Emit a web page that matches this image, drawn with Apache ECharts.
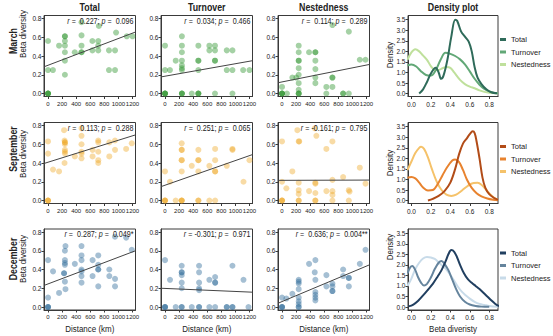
<!DOCTYPE html>
<html>
<head>
<meta charset="utf-8">
<script src="https://cdn.jsdelivr.net/npm/echarts@6/dist/echarts.min.js"></script>
<style>
  html, body { margin: 0; padding: 0; background: #fff; }
  #chart { width: 553px; height: 336px; }
</style>
</head>
<body>
<div id="chart"></div>
<script>
// ---------- labels and ticks ----------
const months = ['March', 'September', 'December'];
const columnTitles = ['Total', 'Turnover', 'Nestedness', 'Density plot'];
const componentNames = ['Total', 'Turnover', 'Nestedness'];
const distanceTicks = [0, 200, 400, 600, 800, 1000, 1200];
const betaTicks = [0, 0.2, 0.4, 0.6, 0.8];
const densityXTicks = [0, 0.2, 0.4, 0.6, 0.8];
const densityYTicks = [0, 0.5, 1, 1.5, 2, 2.5, 3, 3.5];

// ---------- pairwise beta diversity vs distance (km) ----------
const marchTotal = [[0,0],[0,0],[0,0],[0,0],[0,0.56],[0,0.25],[70,0.25],[157,0.51],[240,0.61],[240,0.61],[240,0.56],[240,0.51],[240,0.44],[240,0.35],[240,0.2],[380,0.44],[476,0.76],[476,0.62],[476,0.51],[476,0.44],[476,0.44],[630,0.56],[630,0.46],[714,0.56],[714,0.51],[714,0.46],[723,0.72],[866,0.46],[866,0.25],[952,0.46],[952,0.25],[967,0.65],[1119,0.61],[1200,0.61]];
const marchTurnover = [[0,0],[0,0],[0,0],[0,0],[0,0.51],[0,0.25],[70,0.25],[152,0.35],[240,0.61],[240,0.51],[240,0.44],[240,0.35],[240,0.3],[240,0.27],[240,0.25],[240,0],[240,0],[240,0],[380,0],[474,0.51],[474,0.35],[474,0.35],[474,0.25],[474,0],[474,0],[474,0],[630,0.51],[630,0.46],[710,0.51],[710,0.46],[710,0.35],[710,0.35],[710,0],[877,0.46],[877,0.25],[958,0.46],[958,0.25],[958,0],[1110,0.25],[1200,0.25]];
const marchNestedness = [[0,0],[0,0],[0,0],[0,0],[0,0.07],[70,0],[147,0.17],[204,0.17],[237,0.51],[237,0.44],[237,0.35],[237,0.35],[237,0.27],[237,0.2],[237,0.11],[237,0.04],[237,0],[237,0],[237,0],[384,0.44],[474,0.44],[474,0.44],[474,0.35],[474,0.26],[474,0.17],[474,0.11],[630,0.07],[630,0],[716,0.73],[716,0.17],[716,0.17],[716,0.07],[868,0],[868,0],[949,0],[949,0.66],[1105,0.36],[1186,0.36]];

const septemberTotal = [[0,0],[0,0],[0,0],[0,0.63],[0,0.5],[71,0.33],[157,0.31],[228,0.75],[235,0.64],[240,0.62],[240,0.62],[240,0.6],[240,0.54],[240,0.52],[240,0.5],[235,0.4],[381,0.47],[476,0.77],[476,0.69],[476,0.6],[476,0.52],[476,0.5],[476,0.45],[633,0.54],[633,0.47],[714,0.64],[714,0.62],[714,0.52],[714,0.43],[714,0.4],[871,0.62],[871,0.47],[952,0.64],[952,0.54],[1110,0.55],[1190,0.61]];
const septemberTurnover = [[0,0],[0,0],[0,0],[0,0.31],[70,0.2],[152,0],[237,0.61],[237,0.54],[237,0.54],[237,0.43],[237,0.43],[237,0.31],[237,0],[237,0],[237,0],[380,0.37],[474,0.54],[474,0.43],[474,0.43],[474,0.31],[474,0],[474,0],[630,0.37],[630,0],[712,0],[712,0.55],[712,0.43],[712,0.31],[712,0.31],[877,0.37],[958,0.55],[958,0.54],[1115,0.2],[1200,0.43]];
const septemberNestedness = [[0,0],[0,0],[0,0],[0,0.63],[0,0.2],[62,0.13],[147,0.31],[218,0.75],[237,0.63],[245,0.63],[237,0.19],[237,0.11],[237,0.07],[237,0],[237,0],[384,0.1],[465,0.77],[488,0.69],[474,0.19],[474,0.18],[474,0.08],[474,0],[474,0],[630,0.55],[630,0.1],[716,0.63],[716,0.22],[716,0.1],[716,0.06],[716,0],[868,0.25],[949,0.11],[960,0.095],[949,0],[1105,0.35],[1186,0.18]];

const decemberTotal = [[0,0],[0,0],[0,0],[0,0.1],[0,0.5],[71,0.38],[157,0.15],[228,0.36],[228,0.36],[240,0.45],[240,0.47],[240,0.5],[240,0.6],[248,0.65],[240,0.27],[248,0.19],[381,0.46],[476,0.65],[476,0.55],[476,0.5],[476,0.4],[476,0.38],[476,0.33],[476,0.26],[633,0.5],[633,0.33],[714,0.55],[714,0.45],[714,0.4],[714,0.4],[714,0.22],[871,0.4],[871,0.33],[952,0.75],[952,0.3],[952,0.22],[1110,0.74],[1190,0.61]];
const decemberTurnover = [[0,0],[0,0],[0,0],[0,0.5],[71,0.29],[152,0],[237,0.44],[237,0.37],[237,0.37],[237,0.34],[237,0.26],[237,0.2],[237,0],[237,0],[380,0],[484,0.44],[484,0.37],[484,0.26],[484,0.2],[484,0.18],[484,0],[484,0],[630,0.29],[630,0],[712,0.32],[712,0.26],[712,0.26],[712,0],[877,0],[877,0],[958,0],[958,0],[958,0.44],[1115,0.29],[1186,0]];
const decemberNestedness = [[0,0],[0,0],[0,0],[0,0.1],[62,0.09],[147,0.14],[237,0.29],[237,0.27],[237,0.25],[237,0.19],[237,0.1],[237,0.06],[237,0.03],[237,0],[237,0],[384,0.46],[465,0.37],[474,0.5],[474,0.29],[474,0.16],[474,0.13],[474,0.1],[474,0.07],[630,0.34],[630,0.22],[716,0.25],[716,0.22],[716,0.17],[716,0.17],[868,0.4],[868,0.33],[949,0.31],[949,0.31],[949,0.22],[1105,0.46],[1186,0.61]];

// fitted regression line: y at the left and right ends of the distance axis
const marchFits = [[0.285, 0.656], [0.177, 0.35], [0.115, 0.31]];
const septemberFits = [[0.395, 0.70], [0.148, 0.49], [0.215, 0.218]];
const decemberFits = [[0.23, 0.60], [0.2, 0.158], [0.04, 0.45]];

// correlation statistics per panel
const marchR = [0.227, 0.034, 0.114];
const marchP = [0.096, 0.466, 0.289];
const septemberR = [0.113, 0.251, -0.161];
const septemberP = [0.288, 0.065, 0.795];
const decemberR = [0.287, -0.301, 0.636];
const decemberP = [0.049, 0.971, 0.004];
const decemberStars = ['*', '', '**'];

// ---------- kernel density curves of beta diversity ----------
const marchTotalDensity = [[0.08,0],[0.12,0.2],[0.16,0.55],[0.2,0.95],[0.25,1.22],[0.28,1.0],[0.305,0.7],[0.33,0.85],[0.37,1.6],[0.41,2.7],[0.45,3.5],[0.47,3.45],[0.51,2.95],[0.55,2.7],[0.59,2.45],[0.62,2.0],[0.65,1.25],[0.68,0.75],[0.72,0.45],[0.77,0.2],[0.82,0.06],[0.88,0.01]];
const marchTurnoverDensity = [[-0.04,1.33],[0,1.38],[0.05,1.28],[0.1,1.05],[0.15,0.88],[0.2,0.85],[0.25,1.1],[0.3,1.6],[0.35,1.93],[0.4,1.88],[0.45,1.78],[0.5,1.62],[0.55,1.38],[0.6,1.05],[0.65,0.7],[0.7,0.42],[0.75,0.22],[0.8,0.1],[0.85,0.03],[0.89,0.01]];
const marchNestednessDensity = [[-0.04,1.6],[0,1.95],[0.04,2.1],[0.08,2.0],[0.12,1.8],[0.16,1.6],[0.2,1.3],[0.24,1.12],[0.28,1.12],[0.32,1.2],[0.36,1.26],[0.4,1.22],[0.44,1.0],[0.5,0.65],[0.55,0.45],[0.6,0.33],[0.65,0.25],[0.7,0.15],[0.75,0.08],[0.8,0.04],[0.89,0.01]];

const septemberTotalDensity = [[0.17,0],[0.22,0.08],[0.28,0.22],[0.34,0.45],[0.4,0.85],[0.45,1.5],[0.49,2.2],[0.53,2.7],[0.57,2.95],[0.6,3.15],[0.63,3.28],[0.65,3.2],[0.67,2.8],[0.7,2.0],[0.73,1.1],[0.76,0.6],[0.8,0.3],[0.85,0.12],[0.89,0.04]];
const septemberTurnoverDensity = [[-0.04,1.08],[0,1.12],[0.04,1.05],[0.08,0.85],[0.12,0.62],[0.17,0.48],[0.22,0.5],[0.27,0.78],[0.32,1.2],[0.37,1.6],[0.42,1.9],[0.45,1.95],[0.49,1.82],[0.53,1.45],[0.57,1.0],[0.62,0.6],[0.67,0.35],[0.72,0.2],[0.78,0.1],[0.84,0.04],[0.89,0.01]];
const septemberNestednessDensity = [[-0.04,1.45],[0,1.85],[0.04,2.25],[0.08,2.5],[0.1,2.55],[0.13,2.45],[0.17,2.05],[0.21,1.5],[0.26,0.9],[0.31,0.5],[0.36,0.28],[0.41,0.22],[0.46,0.28],[0.52,0.48],[0.58,0.7],[0.64,0.83],[0.68,0.84],[0.72,0.75],[0.77,0.5],[0.82,0.25],[0.86,0.1],[0.89,0.04]];

const decemberTotalDensity = [[-0.03,0.03],[0.02,0.12],[0.07,0.3],[0.12,0.55],[0.17,0.82],[0.22,1.1],[0.27,1.45],[0.31,1.75],[0.35,2.15],[0.38,2.5],[0.41,2.7],[0.44,2.62],[0.47,2.35],[0.5,2.0],[0.54,1.6],[0.58,1.32],[0.62,1.15],[0.66,1.0],[0.7,0.85],[0.74,0.68],[0.78,0.5],[0.82,0.32],[0.86,0.16],[0.9,0.04]];
const decemberTurnoverDensity = [[-0.04,1.6],[-0.01,1.9],[0.01,1.95],[0.04,1.75],[0.07,1.4],[0.1,1.15],[0.13,1.02],[0.16,1.1],[0.2,1.4],[0.24,1.8],[0.28,2.1],[0.31,2.18],[0.34,2.05],[0.38,1.75],[0.42,1.3],[0.46,0.85],[0.5,0.5],[0.55,0.25],[0.6,0.12],[0.66,0.05],[0.72,0.02],[0.8,0.01]];
const decemberNestednessDensity = [[-0.04,1.0],[0,1.35],[0.04,1.8],[0.08,2.1],[0.12,2.3],[0.16,2.37],[0.2,2.35],[0.24,2.28],[0.28,2.12],[0.32,1.95],[0.36,1.78],[0.4,1.52],[0.44,1.25],[0.48,0.95],[0.52,0.72],[0.56,0.55],[0.6,0.4],[0.65,0.25],[0.7,0.15],[0.75,0.1],[0.8,0.05],[0.89,0.01]];

// ---------- styling ----------
const FONT = '"Liberation Sans", Arial, sans-serif';
const NARROW = 0.84;           // horizontal squeeze for the compact lettering
const INK = '#222';
const FRAME = '#3a3a3a';
const pointColors = ['rgba(50,150,50,0.55)', 'rgba(238,165,30,0.5)', 'rgba(50,110,155,0.55)'];
const densityColors = [
  ['#2f6b5a', '#62a877', '#bfe09c'],
  ['#b24c18', '#e8832f', '#f5c26a'],
  ['#213f60', '#65849d', '#c8dbe9']
];

// panel geometry (pixels)
const ROW_TOP = [15.5, 122.5, 229];
const PANEL_H = 81;
const COL_LEFT = [44, 161, 278, 408];
const COL_W = [91.5, 91.5, 91.5, 90];
const DIST_RANGE = [-57, 1243];
const BETA_RANGE = [-0.032, 0.832];
const DENS_X_RANGE = [-0.035, 0.89];
const DENS_Y_RANGE = [-0.14, 3.7];

const scatterSets = [
  [marchTotal, marchTurnover, marchNestedness],
  [septemberTotal, septemberTurnover, septemberNestedness],
  [decemberTotal, decemberTurnover, decemberNestedness]
];
const fitSets = [marchFits, septemberFits, decemberFits];
const rSets = [marchR, septemberR, decemberR];
const pSets = [marchP, septemberP, decemberP];
const starSets = [['', '', ''], ['', '', ''], decemberStars];
const densitySets = [
  [marchTotalDensity, marchTurnoverDensity, marchNestednessDensity],
  [septemberTotalDensity, septemberTurnoverDensity, septemberNestednessDensity],
  [decemberTotalDensity, decemberTurnoverDensity, decemberNestednessDensity]
];

function axisBase(range, ticks, fmt, size, margin) {
  return {
    type: 'value',
    min: range[0],
    max: range[1],
    axisLine: { show: true, onZero: false, lineStyle: { color: FRAME, width: 1 } },
    axisTick: { show: true, length: 2.5, customValues: ticks, lineStyle: { color: FRAME, width: 1 } },
    axisLabel: { customValues: ticks, fontSize: size, fontFamily: FONT, color: INK, margin: margin, formatter: fmt, hideOverlap: false },
    splitLine: { show: false }
  };
}

const grids = [], xAxes = [], yAxes = [], series = [], legends = [], graphics = [];

function text(x, y, str, opts) {
  const o = opts || {};
  const rot = o.rotation || 0;
  graphics.push({
    type: 'text', x: x, y: y, rotation: rot, scaleX: NARROW, z: 100,
    style: {
      text: str, fontSize: o.size || 9.5, fontFamily: FONT, fontWeight: o.weight || 'normal',
      fill: INK, align: o.align || 'center', verticalAlign: 'middle',
      textAlign: o.align || 'center', textVerticalAlign: 'middle', rich: o.rich
    }
  });
}

for (let r = 0; r < 3; r++) {
  for (let c = 0; c < 4; c++) {
    const gi = grids.length;
    grids.push({
      left: COL_LEFT[c], top: ROW_TOP[r], width: COL_W[c], height: PANEL_H,
      show: true, borderColor: FRAME, borderWidth: 1, backgroundColor: 'transparent'
    });
    if (c < 3) {
      xAxes.push(Object.assign(axisBase(DIST_RANGE, distanceTicks, v => String(v), 6, 4), { gridIndex: gi }));
      yAxes.push(Object.assign(axisBase(BETA_RANGE, betaTicks, v => v.toFixed(1), 6.5, 2.5), { gridIndex: gi }));
      series.push({
        type: 'scatter', xAxisIndex: gi, yAxisIndex: gi, symbolSize: 6, silent: true,
        itemStyle: { color: pointColors[r] }, data: scatterSets[r][c]
      });
      const fit = fitSets[r][c];
      series.push({
        type: 'line', xAxisIndex: gi, yAxisIndex: gi, showSymbol: false, silent: true,
        lineStyle: { color: '#444', width: 1 },
        data: [[DIST_RANGE[0], fit[0]], [DIST_RANGE[1], fit[1]]]
      });
      const rv = rSets[r][c], pv = pSets[r][c];
      const rStr = (rv < 0 ? '' : ' ') + rv.toFixed(3);
      const label = '{i|r} = ' + rStr + '; {i|p} =  ' + pv.toFixed(3) + starSets[r][c];
      text(COL_LEFT[c] + COL_W[c] - 2, ROW_TOP[r] + 5.5, label, {
        size: 8.5, align: 'right',
        rich: { i: { fontStyle: 'italic', fontSize: 8.5, fontFamily: FONT, fill: INK } }
      });
    } else {
      xAxes.push(Object.assign(axisBase(DENS_X_RANGE, densityXTicks, v => v.toFixed(1), 6.5, 4), { gridIndex: gi }));
      yAxes.push(Object.assign(axisBase(DENS_Y_RANGE, densityYTicks, v => v.toFixed(1), 6.5, 2.5), { gridIndex: gi }));
      const names = [];
      for (let k = 0; k < 3; k++) {
        const nm = componentNames[k] + '#' + r;
        names.push(nm);
        series.push({
          name: nm, type: 'line', xAxisIndex: gi, yAxisIndex: gi, smooth: 0.35,
          showSymbol: false, silent: true, color: densityColors[r][k],
          lineStyle: { color: densityColors[r][k], width: 2 },
          data: densitySets[r][k], z: 3 - k
        });
      }
      legends.push({
        data: names, orient: 'vertical', left: 500, top: ROW_TOP[r] + 20, padding: 0,
        itemWidth: 6, itemHeight: 3, itemGap: 4.5, icon: 'rect', selectedMode: false,
        formatter: n => n.split('#')[0],
        textStyle: { fontSize: 7.5, fontFamily: FONT, color: INK }
      });
    }
  }
}

// column titles
for (let c = 0; c < 4; c++) {
  text(COL_LEFT[c] + COL_W[c] / 2, 7, columnTitles[c], { size: 10.5, weight: 'bold' });
}
// row labels and y axis names
const rowLabelY = [41, 149, 259];
const betaLabelY = [34, 154, 259];
const densityLabelY = [55, 163, 247];
for (let r = 0; r < 3; r++) {
  text(13.5, rowLabelY[r], months[r], { size: 10.5, weight: 'bold', rotation: Math.PI / 2 });
  text(22.5, betaLabelY[r], 'Beta diversity', { size: 9.5, rotation: Math.PI / 2 });
  text(389.5, densityLabelY[r], 'Density', { size: 9.5, rotation: Math.PI / 2 });
}
// bottom axis names
for (let c = 0; c < 3; c++) {
  text(COL_LEFT[c] + COL_W[c] / 2, 329, 'Distance (km)', { size: 9.5 });
}
text(COL_LEFT[3] + COL_W[3] / 2, 329, 'Beta diveristy', { size: 9.5 });

const chart = echarts.init(document.getElementById('chart'), null, { renderer: 'svg' });
chart.setOption({
  animation: false,
  backgroundColor: '#fff',
  grid: grids,
  xAxis: xAxes,
  yAxis: yAxes,
  legend: legends,
  series: series,
  graphic: graphics
});
</script>
</body>
</html>
